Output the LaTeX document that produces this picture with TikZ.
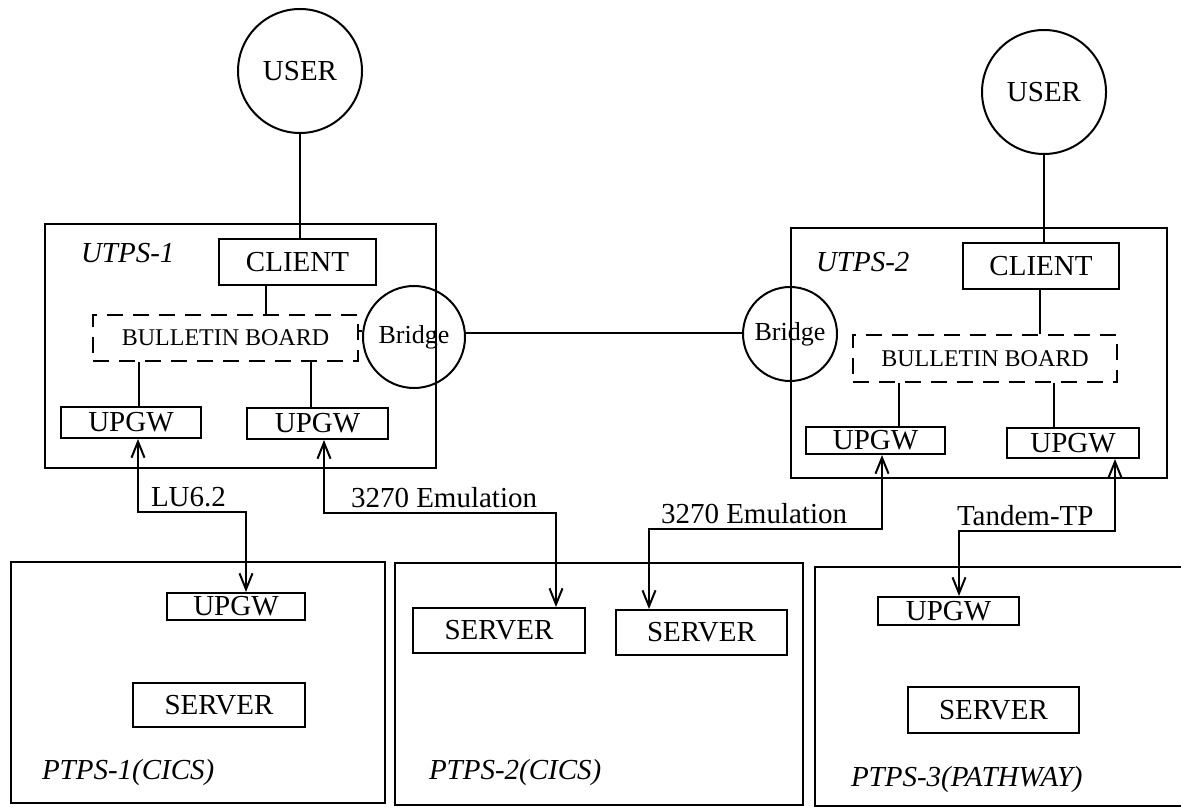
\documentclass[tikz,border=0pt]{standalone}
\usepackage{fontspec}
\setmainfont{Liberation Serif}
\usetikzlibrary{fit,arrows.meta}
\begin{document}
\begin{tikzpicture}[x=0.5pt,y=-0.5pt,line width=1pt,
  txt/.style={font=\fontsize{14.5}{16}\selectfont},
  sz/.style 2 args={minimum width=#1*0.5pt,minimum height=#2*0.5pt},
  box/.style={draw,inner sep=0pt,txt},
  frame/.style={draw,inner sep=0pt},
  board/.style={draw,dash pattern=on 8pt off 5pt,inner sep=0pt,font=\fontsize{12}{14}\selectfont},
  person/.style={draw,circle,inner sep=0pt,minimum size=62pt,txt},
  bridge/.style={draw,circle,inner sep=0pt,font=\fontsize{13}{15}\selectfont},
  syslabel/.style={anchor=west,inner sep=0pt,font=\fontsize{14.5}{16}\selectfont\itshape},
  linklabel/.style={anchor=south west,inner sep=1pt,txt},
  conn/.style={arrows={Straight Barb[length=8pt,width=6.5pt]-Straight Barb[length=8pt,width=6.5pt]}}
]
\useasboundingbox (0,0) rectangle (1181,807);

% ---- user-side transaction systems
\node[frame,fit={(45,224) (436,468)}] (utps1) {};
\node[syslabel] (utps1lab) at (80,253) {UTPS-1};
\node[box,sz={157}{46}] (cl1) at (297.5,262) {CLIENT};
\node[board,sz={265}{46}] (bb1) at (225.5,338) {BULLETIN BOARD};
\node[box,sz={140}{31}] (ga1) at (131,422.5) {UPGW};
\node[box,sz={141}{31}] (gb1) at (317.5,423.5) {UPGW};
\node[bridge,minimum size=51pt] (br1) at (414,337) {Bridge};
\node[person] (us1) at (300,71) {USER};

\node[frame,fit={(791,228) (1167,478)}] (utps2) {};
\node[syslabel] (utps2lab) at (815,262) {UTPS-2};
\node[box,sz={156}{46}] (cl2) at (1041,266) {CLIENT};
\node[board,sz={264}{47}] (bb2) at (985,358.5) {BULLETIN BOARD};
\node[box,sz={139}{27}] (ga2) at (875.5,440.5) {UPGW};
\node[box,sz={132}{30}] (gb2) at (1073,443) {UPGW};
\node[bridge,minimum size=47pt] (br2) at (790,334) {Bridge};
\node[person] (us2) at (1044,92) {USER};

% ---- internal links
\draw (us1.south) -- (us1.south |- cl1.north);
\draw (bb1.north -| 266,0) -- (cl1.south -| 266,0);
\draw (bb1.south -| 139,0) -- (ga1.north -| 139,0);
\draw (bb1.south -| 311,0) -- (gb1.north -| 311,0);
\draw (bb1.east |- 0,331) -- (br1.west |- 0,331);
\draw (br1.east |- 0,333) -- (br2.west |- 0,333);

\draw (us2.south) -- (us2.south |- cl2.north);
\draw (bb2.north -| 1040,0) -- (cl2.south -| 1040,0);
\draw (bb2.south -| 899,0) -- (ga2.north -| 899,0);
\draw (bb2.south -| 1054,0) -- (gb2.north -| 1054,0);

% ---- provider-side transaction systems
\node[frame,fit={(11,562) (385,803)}] (ptps1) {};
\node[syslabel] (ptps1lab) at (41,773) {PTPS-1(CICS)};
\node[box,sz={138}{27}] (gp1) at (236,606.5) {UPGW};
\node[box,sz={172}{44}] (sv1) at (219,705) {SERVER};

\node[frame,fit={(395,563) (803,805)}] (ptps2) {};
\node[syslabel] (ptps2lab) at (428,773) {PTPS-2(CICS)};
\node[box,sz={172}{45}] (sv2a) at (499,630.5) {SERVER};
\node[box,sz={171}{45}] (sv2b) at (701.5,632.5) {SERVER};

% PTPS-3 runs past the right edge
\draw (1181,567) -- (815,567) -- (815,806) -- (1181,806);
\node[syslabel] (ptps3lab) at (850,780) {PTPS-3(PATHWAY)};
\node[box,sz={141}{28}] (gp3) at (948.5,611) {UPGW};
\node[box,sz={171}{46}] (sv3) at (993.5,710) {SERVER};

% ---- protocol links
\draw[conn] (ga1.south -| 138,0) -- (138,512) -- (246,512) -- (gp1.north -| 246,0);
\node[linklabel] (lu) at (148,510) {LU6.2};
\draw[conn] (gb1.south -| 324,0) -- (324,513) -- (556,513) -- (sv2a.north -| 556,0);
\node[linklabel] (em1) at (348,511) {3270 Emulation};
\draw[conn] (ga2.south -| 882,0) -- (882,529) -- (649,529) -- (sv2b.north -| 649,0);
\node[linklabel] (em2) at (658,527) {3270 Emulation};
\draw[conn] (gb2.south -| 1115,0) -- (1115,531) -- (959,531) -- (gp3.north -| 959,0);
\node[linklabel] (tp) at (954,529) {Tandem-TP};
\end{tikzpicture}
\end{document}
